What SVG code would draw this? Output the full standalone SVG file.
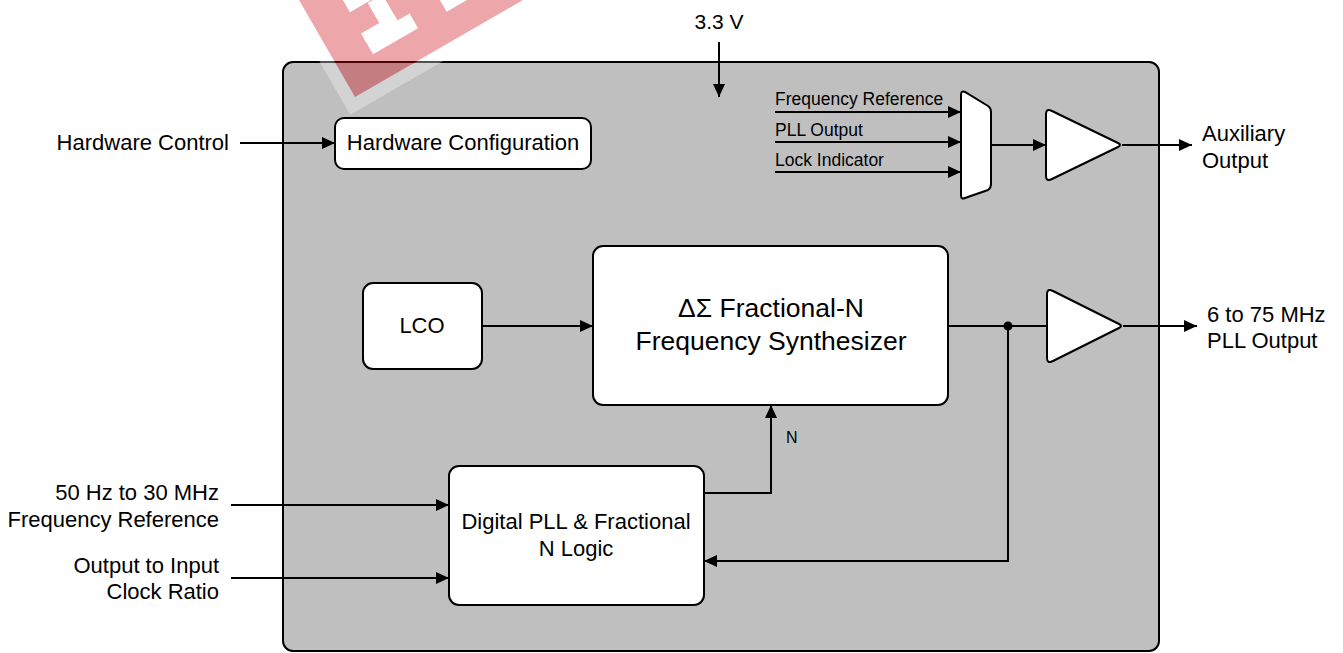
<svg xmlns="http://www.w3.org/2000/svg" width="1343" height="653" viewBox="0 0 1343 653">
<style>
text{font-family:"Liberation Sans",Arial,sans-serif;fill:#000}
.t21{font-size:22px}
.t16{font-size:17.5px}
.box{fill:#fff;stroke:#000;stroke-width:2}
.ln{fill:none;stroke:#000;stroke-width:2}
.ar{fill:none;stroke:#000;stroke-width:2;marker-end:url(#ah)}
</style>
<defs>
<marker id="ah" markerUnits="userSpaceOnUse" markerWidth="14" markerHeight="12" refX="13" refY="6" orient="auto">
<path d="M0,0 L13,6 L0,12 z" fill="#000"/>
</marker>
</defs>
<g id="chip"><rect x="283" y="62" width="876" height="589" rx="10" fill="#bfbfbf" stroke="#000" stroke-width="2"/></g>
<g id="connectors">
<path class="ar" d="M719,42 L719,97"/>
<path class="ar" d="M240,143 L335,143"/>
<path class="ar" d="M775,112 L961,112"/>
<path class="ar" d="M775,142 L961,142"/>
<path class="ar" d="M775,172 L961,172"/>
<path class="ar" d="M991,145 L1046,145"/>
<path class="ar" d="M1122,145 L1192,145"/>
<path class="ar" d="M482,326 L593,326"/>
<path class="ln" d="M948,326 L1047,326"/>
<path class="ar" d="M1123,326 L1197,326"/>
<path class="ar" d="M1008,326 L1008,561 L704,561"/>
<path class="ar" d="M704,493 L771,493 L771,405"/>
<path class="ar" d="M231,505 L449,505"/>
<path class="ar" d="M231,578 L449,578"/>
<circle cx="1008" cy="326" r="4.5" fill="#000"/>
</g>
<g id="labels">
<text x="719" y="29" text-anchor="middle" font-size="21">3.3 V</text>
<text class="t21" x="229" y="150" text-anchor="end">Hardware Control</text>
<text class="t16" x="775" y="105">Frequency Reference</text>
<text class="t16" x="775" y="136">PLL Output</text>
<text class="t16" x="775" y="166">Lock Indicator</text>
<text class="t21" x="1202" y="141">Auxiliary</text>
<text class="t21" x="1202" y="168">Output</text>
<text class="t21" x="1207" y="322">6 to 75 MHz</text>
<text class="t21" x="1207" y="348">PLL Output</text>
<text x="786" y="443" font-size="16">N</text>
<text class="t21" x="219" y="500" text-anchor="end">50 Hz to 30 MHz</text>
<text class="t21" x="219" y="527" text-anchor="end">Frequency Reference</text>
<text class="t21" x="219" y="573" text-anchor="end">Output to Input</text>
<text class="t21" x="219" y="599" text-anchor="end">Clock Ratio</text>
</g>
<g id="hwconfig">
<rect class="box" x="335" y="118" width="256" height="51" rx="9"/>
<text class="t21" x="463" y="150" text-anchor="middle">Hardware Configuration</text>
</g>
<g id="mux">
<path class="box" d="M961,95 Q961,90 965,92 L988,106 Q991,108 991,112 L991,184 Q991,188 988,190 L965,198 Q961,200 961,195 Z"/>
</g>
<g id="auxbuf">
<path class="box" d="M1046,114 Q1046,108 1052,111 L1118,143 Q1122,145 1118,147 L1052,179 Q1046,182 1046,176 Z"/>
</g>
<g id="synth">
<rect class="box" x="593" y="246" width="355" height="159" rx="10"/>
<text x="771" y="317" text-anchor="middle" font-size="26.5">ΔΣ Fractional-N</text>
<text x="771" y="350" text-anchor="middle" font-size="26.5">Frequency Synthesizer</text>
</g>
<g id="lco">
<rect class="box" x="363" y="283" width="119" height="86" rx="10"/>
<text class="t21" x="422" y="333" text-anchor="middle">LCO</text>
</g>
<g id="pllbuf">
<path class="box" d="M1047,294 Q1047,288 1053,291 L1119,324 Q1123,326 1119,328 L1053,361 Q1047,364 1047,358 Z"/>
</g>
<g id="dpll">
<rect class="box" x="449" y="466" width="255" height="139" rx="10"/>
<text class="t21" x="576" y="529" text-anchor="middle">Digital PLL &amp; Fractional</text>
<text class="t21" x="576" y="556" text-anchor="middle">N Logic</text>
</g>
<g id="watermark" transform="translate(355,97) rotate(-30)">
<path d="M-13,-243 L243,-243 L243,13 L-13,13 Z M0,-230 L0,0 L230,0 L230,-230 Z" fill="#fff" fill-opacity="0.32" fill-rule="evenodd"/>
<rect x="0" y="-230" width="230" height="230" fill="#cc0a14" fill-opacity="0.36"/>
<g fill="#fff">
<rect x="37" y="-45" width="52" height="17"/>
<rect x="37" y="-52" width="38" height="10"/>
<rect x="58" y="-75" width="17" height="30"/>
<rect x="38" y="-93" width="62" height="17"/>
<rect x="122" y="-43" width="50" height="15"/>
</g>
</g>
</svg>
